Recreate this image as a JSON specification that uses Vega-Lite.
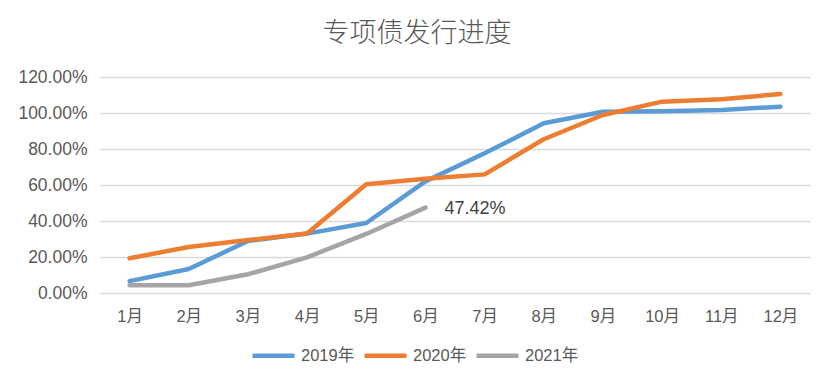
{
  "$schema": "https://vega.github.io/schema/vega-lite/v6.json",
  "autosize": {"type": "none"},
  "padding": {"left": 100, "top": 77, "right": 24, "bottom": 95},
  "width": 710,
  "height": 216,
  "background": "white",
  "title": {
    "text": "专项债发行进度",
    "fontSize": 27,
    "font": "Noto Sans CJK SC",
    "fontWeight": 300,
    "color": "#595959",
    "anchor": "middle",
    "dx": -38,
    "offset": 20
  },
  "data": {
    "values": [
      {"month": "1月", "series": "2019年", "value": 0.066},
      {"month": "2月", "series": "2019年", "value": 0.133},
      {"month": "3月", "series": "2019年", "value": 0.289},
      {"month": "4月", "series": "2019年", "value": 0.33},
      {"month": "5月", "series": "2019年", "value": 0.389},
      {"month": "6月", "series": "2019年", "value": 0.62},
      {"month": "7月", "series": "2019年", "value": 0.776},
      {"month": "8月", "series": "2019年", "value": 0.943},
      {"month": "9月", "series": "2019年", "value": 1.007},
      {"month": "10月", "series": "2019年", "value": 1.01},
      {"month": "11月", "series": "2019年", "value": 1.017},
      {"month": "12月", "series": "2019年", "value": 1.035},
      {"month": "1月", "series": "2020年", "value": 0.193},
      {"month": "2月", "series": "2020年", "value": 0.256},
      {"month": "3月", "series": "2020年", "value": 0.294},
      {"month": "4月", "series": "2020年", "value": 0.33},
      {"month": "5月", "series": "2020年", "value": 0.604},
      {"month": "6月", "series": "2020年", "value": 0.635},
      {"month": "7月", "series": "2020年", "value": 0.659},
      {"month": "8月", "series": "2020年", "value": 0.854},
      {"month": "9月", "series": "2020年", "value": 0.989},
      {"month": "10月", "series": "2020年", "value": 1.063},
      {"month": "11月", "series": "2020年", "value": 1.076},
      {"month": "12月", "series": "2020年", "value": 1.106},
      {"month": "1月", "series": "2021年", "value": 0.043},
      {"month": "2月", "series": "2021年", "value": 0.043},
      {"month": "3月", "series": "2021年", "value": 0.104},
      {"month": "4月", "series": "2021年", "value": 0.198},
      {"month": "5月", "series": "2021年", "value": 0.328},
      {"month": "6月", "series": "2021年", "value": 0.4742, "label": "47.42%"}
    ]
  },
  "encoding": {
    "x": {
      "field": "month",
      "type": "ordinal",
      "sort": ["1月","2月","3月","4月","5月","6月","7月","8月","9月","10月","11月","12月"],
      "scale": {"type": "point", "padding": 0.5},
      "axis": {
        "title": null,
        "labelAngle": 0,
        "ticks": false,
        "domain": false,
        "labelPadding": 15,
        "labelFontSize": 16.5,
        "labelColor": "#595959",
        "labelFont": "Liberation Sans, Noto Sans CJK SC"
      }
    },
    "y": {
      "field": "value",
      "type": "quantitative",
      "scale": {"domain": [0, 1.2], "nice": false},
      "axis": {
        "title": null,
        "format": ".2%",
        "values": [0, 0.2, 0.4, 0.6, 0.8, 1.0, 1.2],
        "ticks": false,
        "domain": false,
        "labelPadding": 13,
        "labelFontSize": 17.5,
        "labelColor": "#595959",
        "labelFont": "Liberation Sans",
        "gridColor": "#d9d9d9",
        "gridWidth": 1.5
      }
    }
  },
  "layer": [
    {
      "mark": {"type": "line", "strokeWidth": 4.5, "strokeCap": "round", "strokeJoin": "round"},
      "encoding": {
        "color": {
          "field": "series",
          "type": "nominal",
          "scale": {"domain": ["2019年", "2020年", "2021年"], "range": ["#5B9BD5", "#ED7D31", "#A5A5A5"]},
          "legend": {
            "title": null,
            "orient": "none",
            "direction": "horizontal",
            "legendX": 150,
            "legendY": 255,
            "symbolType": "stroke",
            "symbolSize": 1764,
            "symbolStrokeWidth": 4.5,
            "labelFontSize": 16.5,
            "labelColor": "#595959",
            "labelFont": "Liberation Sans, Noto Sans CJK SC",
            "columnPadding": 0,
            "labelOffset": 4
          }
        }
      }
    },
    {
      "transform": [{"filter": "isValid(datum.label)"}],
      "mark": {"type": "text", "align": "left", "baseline": "middle", "dx": 19, "dy": 1, "fontSize": 18, "color": "#404040", "font": "Liberation Sans"},
      "encoding": {"text": {"field": "label"}}
    }
  ],
  "config": {"view": {"stroke": null}}
}
